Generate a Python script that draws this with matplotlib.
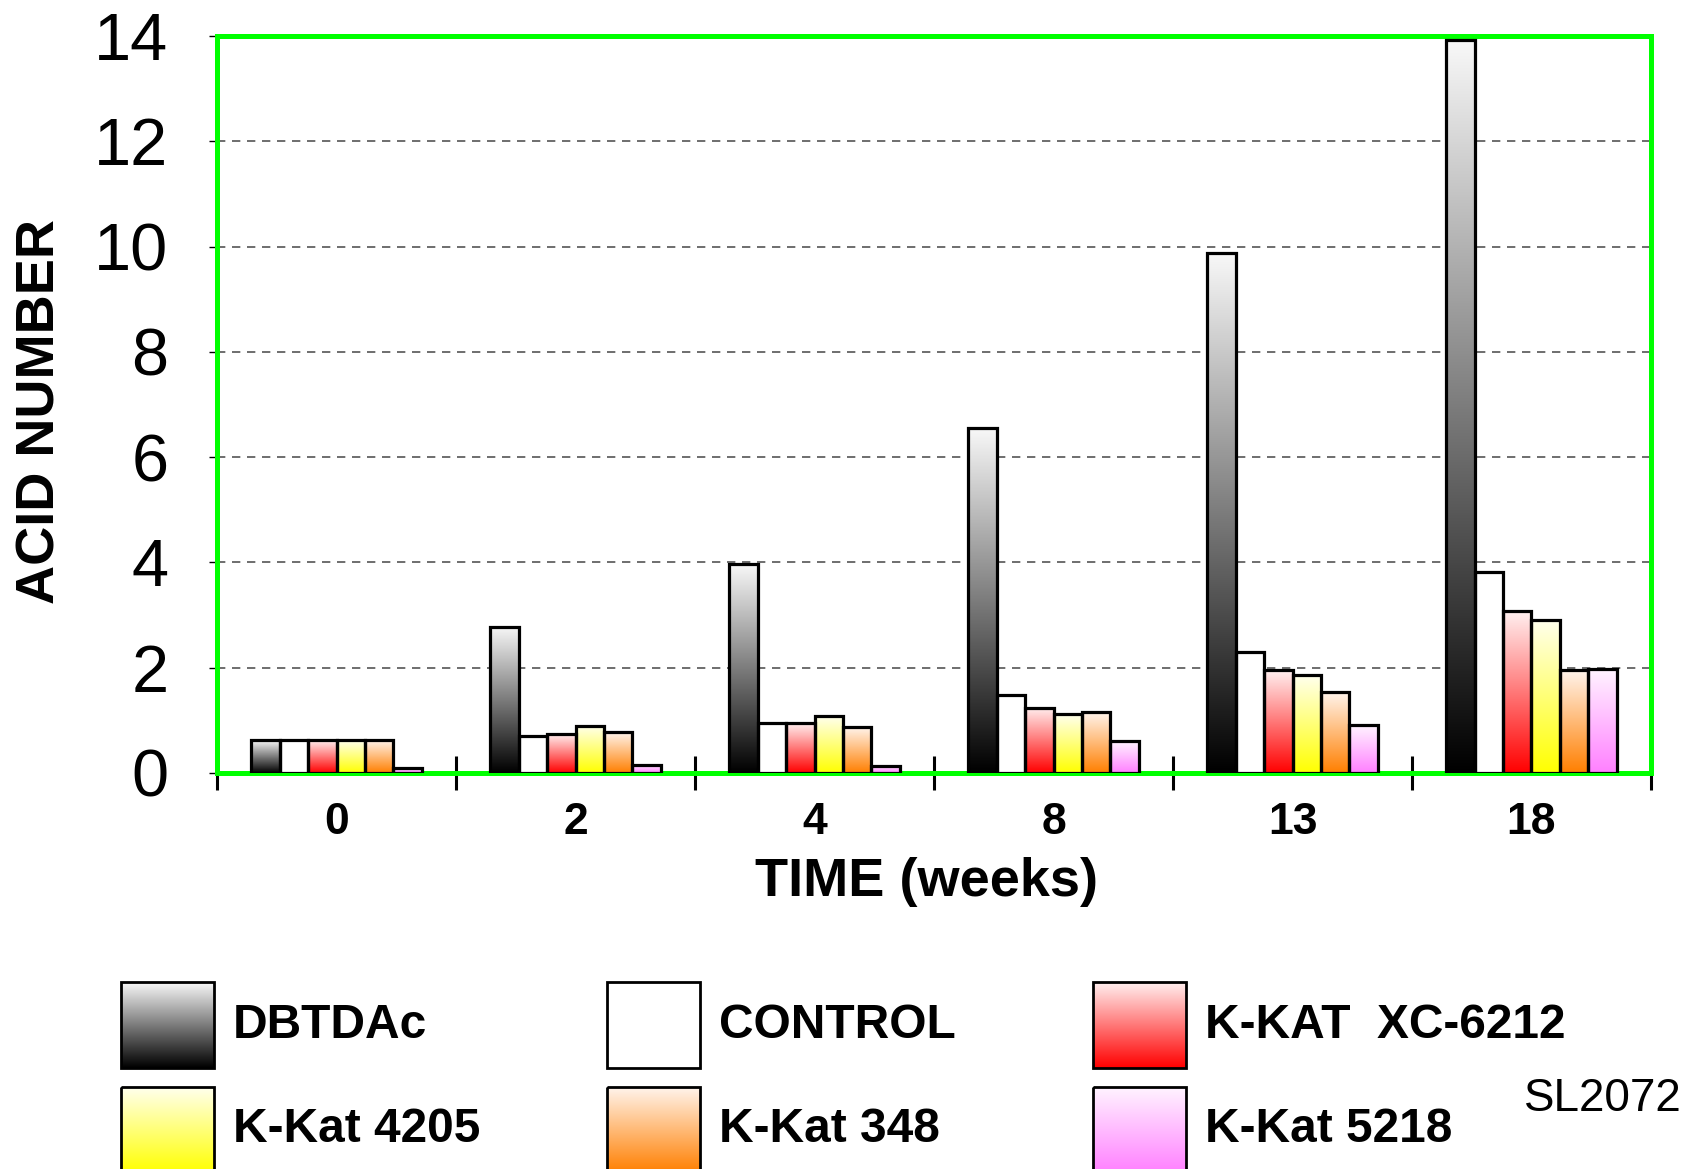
import numpy as np
import matplotlib.pyplot as plt
from matplotlib.colors import LinearSegmentedColormap
from matplotlib.patches import Rectangle

plt.rcParams['font.family'] = ['Liberation Sans', 'DejaVu Sans']

weeks = ['0', '2', '4', '8', '13', '18']
series = ['DBTDAc', 'CONTROL', 'K-KAT  XC-6212', 'K-Kat 4205', 'K-Kat 348', 'K-Kat 5218']

dbtdac = [0.62, 2.78, 3.97, 6.55, 9.87, 13.92]
control = [0.62, 0.71, 0.94, 1.49, 2.29, 3.82]
xc6212 = [0.62, 0.74, 0.94, 1.24, 1.95, 3.07]
kat4205 = [0.62, 0.90, 1.08, 1.12, 1.86, 2.91]
kat348 = [0.62, 0.77, 0.87, 1.15, 1.53, 1.95]
kat5218 = [0.10, 0.16, 0.14, 0.60, 0.91, 1.97]
values = [dbtdac, control, xc6212, kat4205, kat348, kat5218]

# gradient: colour at the bottom of the bar, colour at the top
grad_bottom = ['#000000', '#ffffff', '#ff0000', '#ffff00', '#ff7f00', '#ff80ff']
grad_top = ['#f8f8f8', '#ffffff', '#fff0f0', '#ffffee', '#fff4ec', '#fff4ff']

ramp = np.linspace(0, 1, 256).reshape(-1, 1)


def cmap_for(i):
    return LinearSegmentedColormap.from_list('g%d' % i, [grad_bottom[i], grad_top[i]])


fig = plt.figure(figsize=(17.01, 11.69), dpi=100)
ax = fig.add_axes([0.1276, 0.3388, 0.843, 0.6304])

x = np.arange(len(weeks))
width = 0.119

for i, vals in enumerate(values):
    bars = ax.bar(x + (i - 2.5) * width, vals, width,
                  facecolor='none', edgecolor='black', linewidth=2.3, zorder=4)
    cm = cmap_for(i)
    for r in bars:
        x0 = r.get_x()
        ax.imshow(ramp, cmap=cm, origin='lower', aspect='auto',
                  interpolation='bilinear',
                  extent=(x0, x0 + r.get_width(), 0, r.get_height()), zorder=3)

ax.set_xlim(-0.5, 5.5)
ax.set_ylim(0, 14)

ax.set_yticks(range(0, 15, 2))
ax.tick_params(axis='y', direction='out', length=6, width=1, pad=29, labelsize=48)

ax.set_xticks(np.arange(-0.5, 6, 1))
ax.set_xticks(x, minor=True)
ax.set_xticklabels(weeks, minor=True, fontweight='bold', fontsize=32)
ax.tick_params(axis='x', which='major', direction='inout', length=24, width=2.2,
               labelbottom=False)
ax.tick_params(axis='x', which='minor', length=0, pad=21)

ax.yaxis.grid(True, linestyle=(0, (5, 4)), color='#555555', linewidth=1.2)
ax.set_axisbelow(True)

for s in ax.spines.values():
    s.set_color('#00ff00')
    s.set_linewidth(3.6)

ax.set_xlabel('TIME (weeks)', fontsize=39, fontweight='bold')
ax.xaxis.set_label_coords(0.495, -0.114)
ax.set_ylabel('ACID NUMBER', fontsize=39, fontweight='bold', va='center')
ax.yaxis.set_label_coords(-0.1234, 0.49)

# legend drawn in pixel coordinates of the figure
lax = fig.add_axes([0, 0, 1, 1], zorder=-1)
col_x = [121, 607, 1093]
row_y = [982, 1087]
box_w, box_h = 93, 86
for i, name in enumerate(series):
    bx = col_x[i % 3]
    by = row_y[i // 3]
    lax.imshow(ramp, cmap=cmap_for(i), origin='lower', aspect='auto',
               interpolation='bilinear',
               extent=(bx, bx + box_w, by + box_h, by))
    lax.add_patch(Rectangle((bx, by), box_w, box_h, fill=False,
                            edgecolor='black', linewidth=2))
    lax.text(bx + 112, by + box_h / 2, name, fontsize=34.5, fontweight='bold',
             ha='left', va='center')

lax.text(1682, 1099, 'SL2072', fontsize=33, ha='right', va='center')
lax.set_xlim(0, 1701)
lax.set_ylim(1169, 0)
lax.axis('off')

fig.savefig('out.png', dpi=100)
